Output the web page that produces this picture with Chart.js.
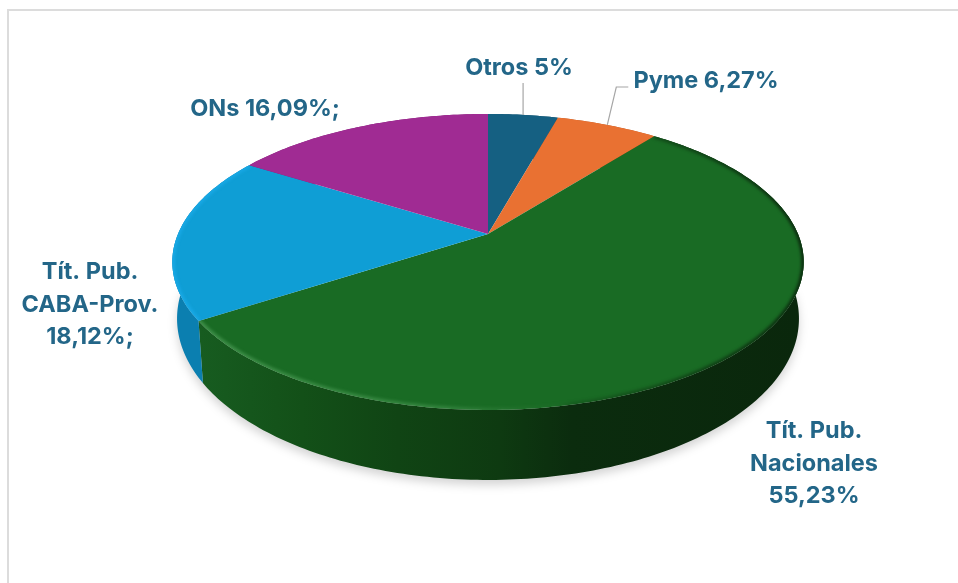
<html>
<head>
<meta http-equiv="Content-Type" content="text/html; charset=utf-8"/>
<title>Cartera</title>
<script src="https://cdn.jsdelivr.net/npm/chart.js@4.4.1/dist/chart.umd.min.js"></script>
<style>
    body { margin: 0; background: #fff; overflow: hidden; }
    #marco { position: absolute; left: 7px; top: 9px; width: 951px; height: 574px;
             border-top: 2px solid #dcdcdc; border-left: 2px solid #dcdcdc; }
    #grafica { position: absolute; left: 0; top: 0; }
</style>
<script>
// datos
var categorias = ['Otros', 'Pyme', 'Tít. Pub. Nacionales', 'Tít. Pub. CABA-Prov.', 'ONs']
var valores = [4.29, 6.27, 55.23, 18.12, 16.09]
var colores = ['#156082', '#E97132', '#196B24', '#0F9ED5', '#A02B93']
var coloresLado = ['#0f4a64', '#b85a26', '#12501a', '#0b7fb0', '#7c2172']
var etiquetas = [['Otros 5%'], ['Pyme 6,27%'], ['Tít. Pub.', 'Nacionales', '55,23%'], ['Tít. Pub.', 'CABA-Prov.', '18,12%;'], ['ONs 16,09%;']]
var posEtiquetas = [[519, 68], [706, 81], [814, 431], [90, 272], [265, 109]]

// perspectiva del disco
var CX = 488, CY = 234, RX = 310, RY = 142.7, P = -0.189

var proyectar = (a) => {
    var w = 1 + P * Math.sin(a)
    return { x: CX + RX * Math.cos(a) / w, y: CY + RY * Math.sin(a) / w }
}

var abajo = (p) => {
    return { x: CX + (p.x - CX) * 0.985, y: p.y + 70 - 0.09 * (410 - p.y) }
}

var borde = (a0, a1) => {
    var pts = []
    var n = Math.max(2, Math.ceil((a1 - a0) * 60))
    for (var i = 0; i <= n; i++) {
        pts.push(proyectar(a0 + (a1 - a0) * i / n))
    }
    return pts
}

// lineTo siempre, para que siga el mismo trazo
var trazar = (ctx, pts) => {
    pts.forEach((p) => {
        ctx.lineTo(p.x, p.y)
    })
}

var pie3d = {
    id: 'pie3d',
    beforeDatasetsDraw: (chart) => {
        var ctx = chart.ctx
        var arcos = chart.getDatasetMeta(0).data

        // sombra
        var todo = borde(0, Math.PI).map(abajo)
        ctx.save()
        ctx.filter = 'blur(5px)'
        ctx.fillStyle = 'rgba(0,0,0,0.17)'
        ctx.translate(0, 5)
        ctx.beginPath()
        trazar(ctx, todo)
        ctx.closePath()
        ctx.fill()
        ctx.restore()

        // lados
        arcos.forEach((arco, i) => {
            var pts = borde(arco.startAngle, arco.endAngle)
            var fill = coloresLado[i]
            if (categorias[i] == 'Tít. Pub. Nacionales') {
                fill = ctx.createLinearGradient(200, 0, 800, 0)
                fill.addColorStop(0, '#175c20')
                fill.addColorStop(0.17, '#135018')
                fill.addColorStop(0.33, '#104414')
                fill.addColorStop(0.5, '#0e3a11')
                fill.addColorStop(0.62, '#0b2c0e')
                fill.addColorStop(1, '#0a270c')
            }
            ctx.fillStyle = fill
            ctx.beginPath()
            trazar(ctx, pts)
            trazar(ctx, pts.map(abajo).reverse())
            ctx.closePath()
            ctx.fill()
        })

        // cara superior
        arcos.forEach((arco, i) => {
            var pts = borde(arco.startAngle, arco.endAngle)
            ctx.save()
            ctx.beginPath()
            ctx.moveTo(CX, CY)
            trazar(ctx, pts)
            ctx.closePath()
            ctx.fillStyle = arco.options.backgroundColor
            ctx.fill()
            ctx.clip()

            // brillo del borde
            if (i == 2) {
                var luz = ctx.createLinearGradient(200, 0, 800, 0)
                luz.addColorStop(0, 'rgba(90,170,100,0.55)')
                luz.addColorStop(0.4, 'rgba(90,170,100,0.4)')
                luz.addColorStop(0.58, 'rgba(70,140,80,0.05)')
                luz.addColorStop(0.62, 'rgba(10,40,12,0.2)')
                luz.addColorStop(1, 'rgba(8,30,10,0.8)')
                ctx.strokeStyle = luz
            } else if (i == 3) {
                ctx.strokeStyle = 'rgba(30,175,240,0.6)'
            } else {
                ctx.restore()
                return
            }
            ctx.filter = 'blur(1.5px)'
            ctx.lineWidth = 5
            ctx.beginPath()
            trazar(ctx, pts)
            ctx.stroke()
            ctx.restore()
        })
        return false
    },
    afterDraw: (chart) => {
        var ctx = chart.ctx
        var arcos = chart.getDatasetMeta(0).data

        // lineas guia
        ctx.strokeStyle = '#a6a6a6'
        ctx.lineWidth = 1.2
        var a0 = (arcos[0].startAngle + arcos[0].endAngle) / 2
        var p0 = proyectar(a0)
        ctx.beginPath()
        ctx.moveTo(p0.x, p0.y)
        ctx.lineTo(p0.x, posEtiquetas[0][1] + 15)
        ctx.stroke()
        var a1 = (arcos[1].startAngle + arcos[1].endAngle) / 2
        var p1 = proyectar(a1)
        ctx.beginPath()
        ctx.moveTo(p1.x, p1.y)
        ctx.lineTo(p1.x + 9, posEtiquetas[1][1] + 6)
        ctx.lineTo(p1.x + 21, posEtiquetas[1][1] + 6)
        ctx.stroke()

        // etiquetas
        ctx.fillStyle = '#236688'
        ctx.font = '700 23.5px Inter'
        ctx.textAlign = 'center'
        ctx.textBaseline = 'middle'
        etiquetas.forEach((lineas, i) => {
            lineas.forEach((txt, j) => {
                ctx.fillText(txt, posEtiquetas[i][0], posEtiquetas[i][1] + j * 32.5)
            })
        })
    }
}

window.onload = () => {
    var contenedor = document.getElementById('grafica')
    var grafica = new Chart(contenedor, {
        type: 'pie',
        data: {
            labels: categorias,
            datasets: [{
                data: valores,
                backgroundColor: colores,
                borderWidth: 0
            }]
        },
        options: {
            responsive: false,
            animation: false,
            events: [],
            plugins: { legend: { display: false }, tooltip: { enabled: false } }
        },
        plugins: [pie3d]
    })
}
</script>
</head>
<body>
    <div id="marco"></div>
    <canvas id="grafica" width="958" height="583"></canvas>
</body>
</html>
